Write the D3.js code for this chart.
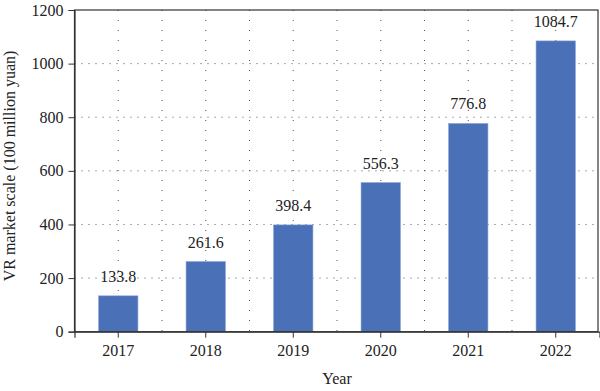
<!DOCTYPE html>
<html><head><meta charset="utf-8">
<script src="https://cdn.jsdelivr.net/npm/d3@7"></script>
<style>body{margin:0;background:#fff}svg text{font-family:"Liberation Serif","Times New Roman",serif;fill:#222}</style>
</head><body><svg id="c" width="600" height="391"></svg>
<script>
const years = ["2017","2018","2019","2020","2021","2022"];
const values = [133.8, 261.6, 398.4, 556.3, 776.8, 1084.7];
const yTicks = [0,200,400,600,800,1000,1200];

const svg = d3.select("#c");
const m = {l:74.5, r:599.5, t:10, b:331.7};
const x = d3.scaleBand().domain(years).range([m.l, m.r]).paddingInner(0).paddingOuter(0);
const y = d3.scaleLinear().domain([0,1200]).range([m.b, m.t]);
const bw = x.bandwidth()*0.45;
const FS = 16;

// grid
const g = svg.append("g");
yTicks.filter(d=>d>0 && d<1200).forEach(d=>{
  g.append("line").attr("x1",m.l).attr("x2",m.r).attr("y1",y(d)).attr("y2",y(d))
   .attr("stroke","#555").attr("stroke-width",1).attr("stroke-dasharray","1,6");
});
const vx = [];
years.forEach((d,i)=>{ vx.push(x(d)+x.bandwidth()/2); if(i>0) vx.push(x(d)); });
vx.forEach(v=>{
  g.append("line").attr("x1",v).attr("x2",v).attr("y1",m.t).attr("y2",m.b)
   .attr("stroke","#555").attr("stroke-width",1).attr("stroke-dasharray","1,9");
});

// bars
svg.append("g").selectAll("rect").data(values).join("rect")
  .attr("x",(d,i)=>x(years[i])+x.bandwidth()/2-bw/2)
  .attr("width",bw)
  .attr("y",d=>y(d)).attr("height",d=>m.b-y(d))
  .attr("fill","#4a70b8").attr("stroke","#8aa4d6").attr("stroke-width",0.6);

svg.append("g").selectAll("text").data(values).join("text")
  .attr("x",(d,i)=>x(years[i])+x.bandwidth()/2).attr("y",d=>y(d)-14)
  .attr("text-anchor","middle").attr("font-size",FS).text(d=>d.toFixed(1));

// box
svg.append("rect").attr("x",m.l).attr("y",m.t).attr("width",m.r-m.l-1.5).attr("height",m.b-m.t)
  .attr("fill","none").attr("stroke","#333").attr("stroke-width",1.2);

// axes
const xa = svg.append("g").attr("transform",`translate(0,${m.b})`)
  .call(d3.axisBottom(x).tickSize(6).tickPadding(7));
const ya = svg.append("g").attr("transform",`translate(${m.l},0)`)
  .call(d3.axisLeft(y).tickValues(yTicks).tickFormat(d3.format("d")).tickSize(6).tickPadding(5));
[xa,ya].forEach(a=>{
  a.attr("font-size",FS).attr("font-family","Liberation Serif");
  a.select(".domain").attr("stroke","#333").attr("stroke-width",1.2);
  a.selectAll(".tick line").attr("stroke","#333");
  a.selectAll("text").attr("fill","#222");
});

svg.append("text").attr("x",(m.l+m.r)/2).attr("y",384).attr("text-anchor","middle")
  .attr("font-size",FS).text("Year");
svg.append("text").attr("transform",`translate(15,166) rotate(-90)`)
  .attr("text-anchor","middle").attr("font-size",FS).text("VR market scale (100 million yuan)");
</script></body></html>
